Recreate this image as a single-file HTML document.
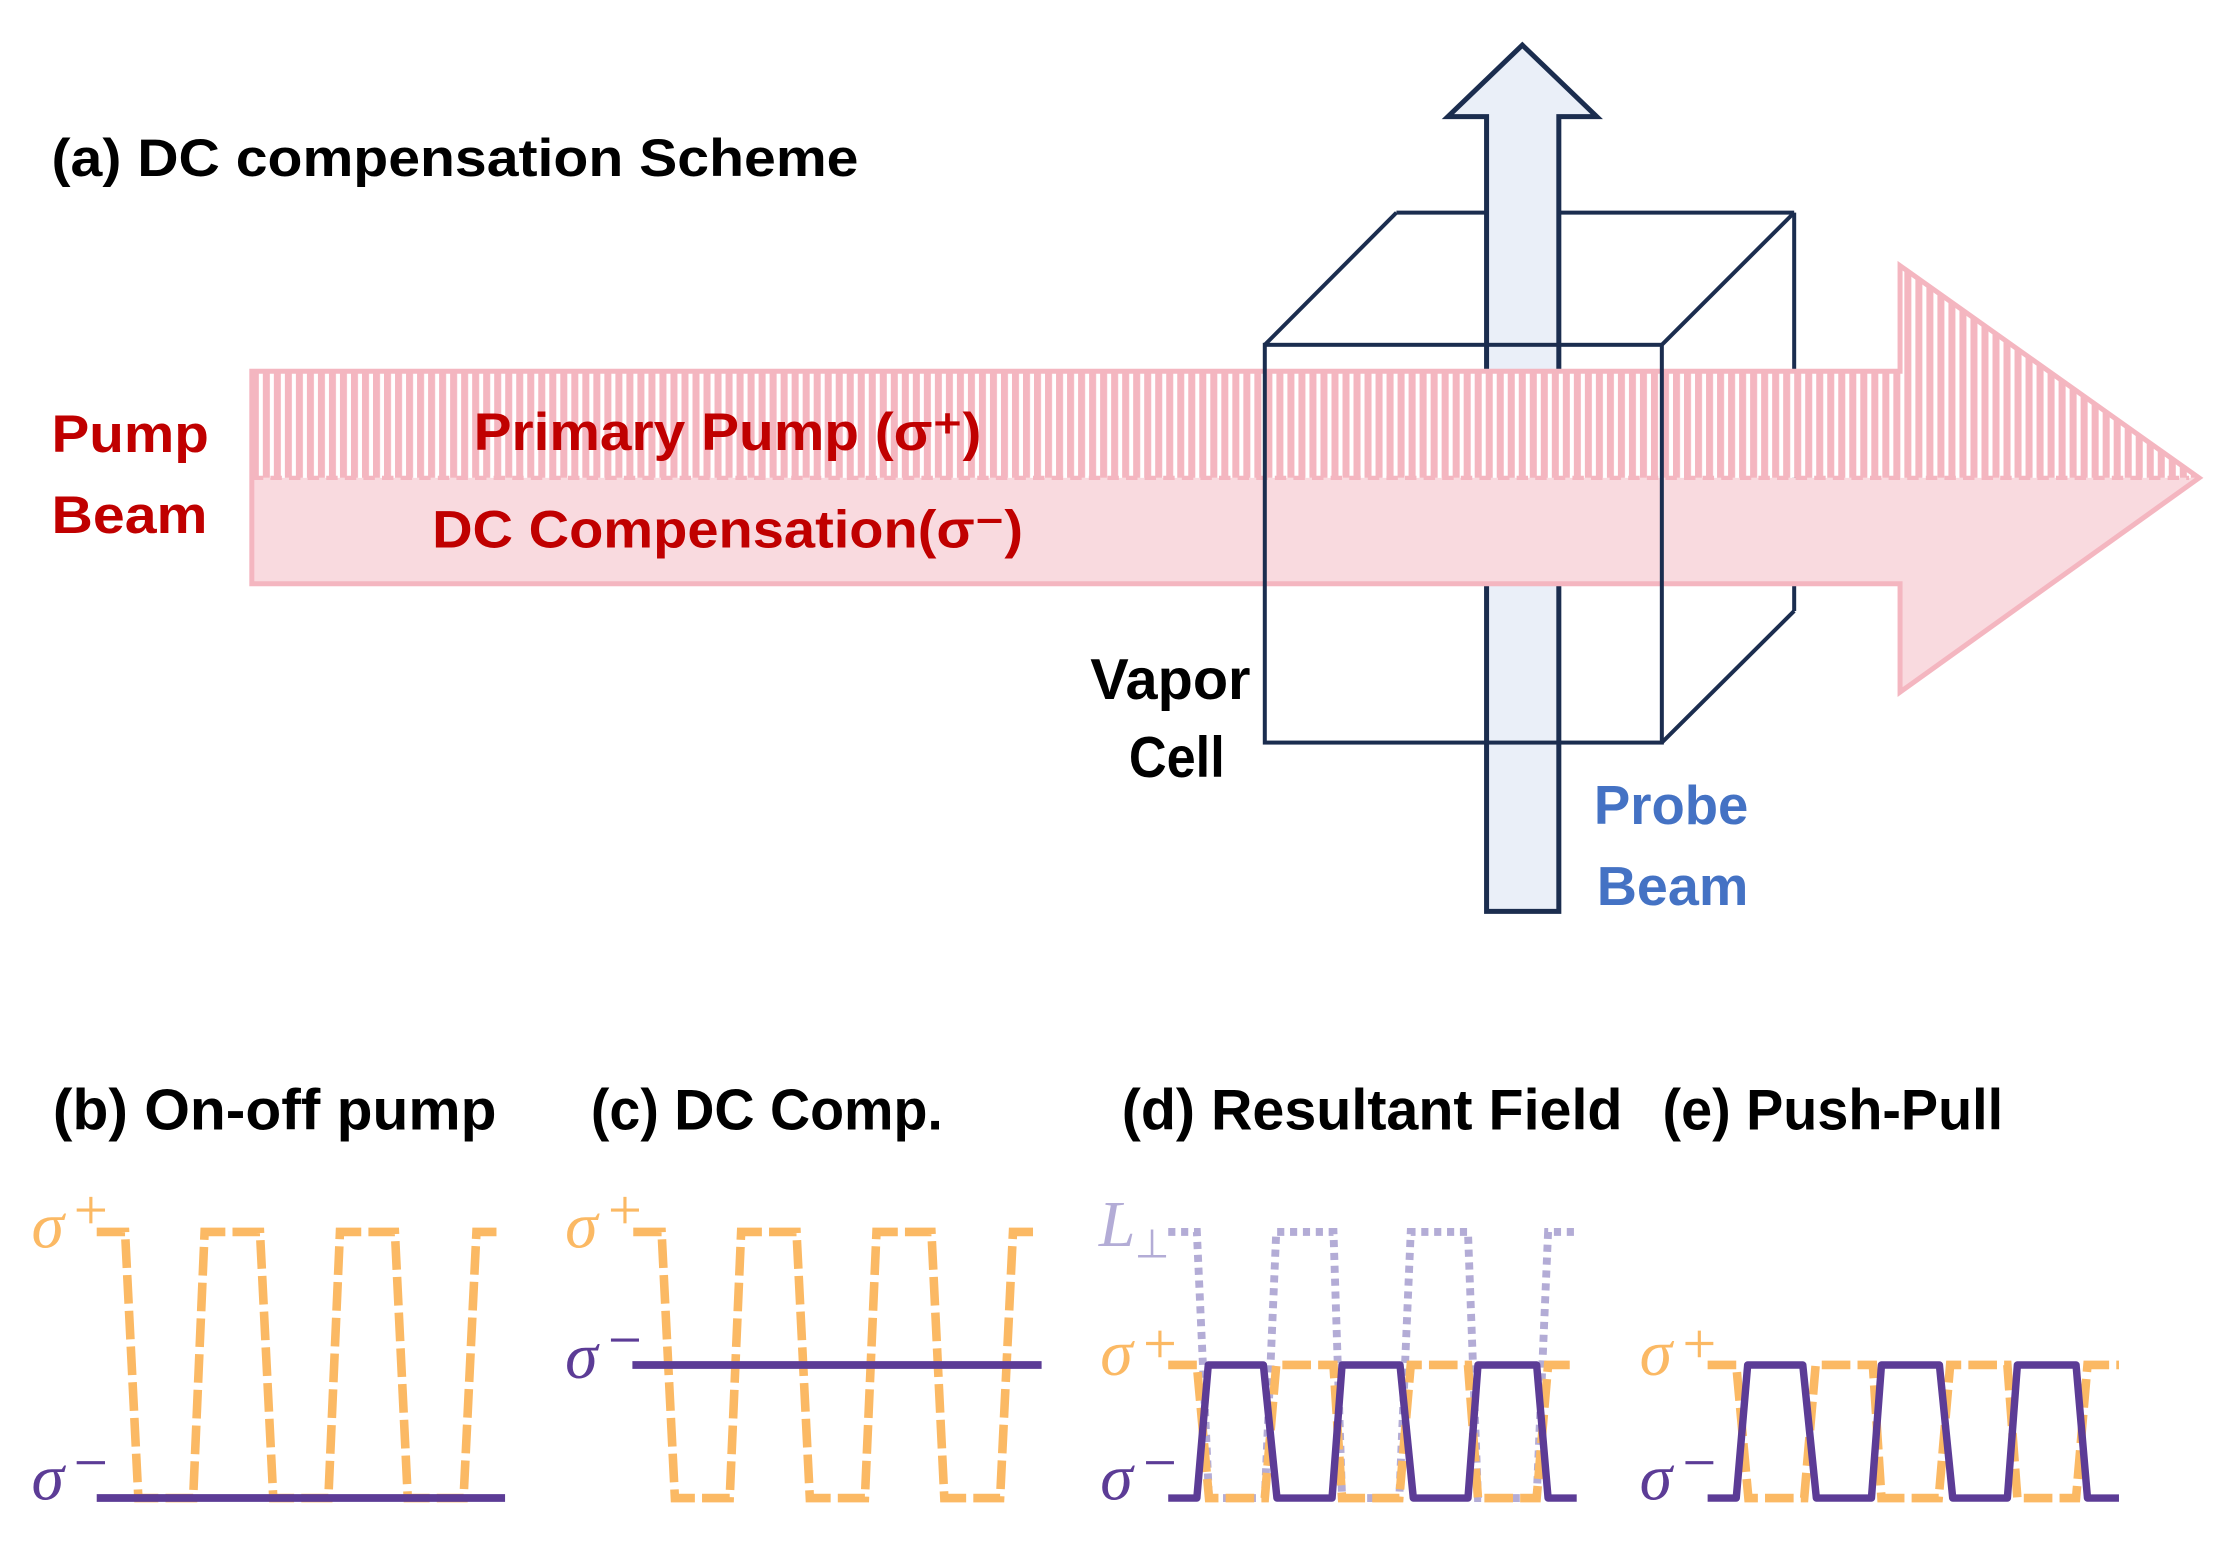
<!DOCTYPE html>
<html><head><meta charset="utf-8"><style>
html,body{margin:0;padding:0;background:#fff;}
svg{display:block;}
text{font-family:"Liberation Sans",sans-serif;}
.t{font-weight:bold;}
.s{font-family:"Liberation Serif",serif;font-style:italic;}
</style></head><body>
<svg width="2232" height="1567" viewBox="0 0 1560 1095.2" preserveAspectRatio="none" xmlns="http://www.w3.org/2000/svg">
<defs>
<pattern id="hatch" patternUnits="userSpaceOnUse" width="7.7" height="10" x="176">
<rect x="0" y="0" width="7.7" height="10" fill="#fff"/>
<rect x="0" y="0" width="4.9" height="10" fill="#f4b6c0"/>
</pattern>
</defs>
<rect width="1560" height="1095.2" fill="#fff"/>

<!-- title -->
<text x="36" y="123" font-size="37" class="t" textLength="564" lengthAdjust="spacingAndGlyphs">(a) DC compensation Scheme</text>

<!-- back cube edges -->
<g stroke="#1b2d4f" stroke-width="2.8" fill="none">
<line x1="976" y1="148.6" x2="1254" y2="148.6"/>
<line x1="1254" y1="148.6" x2="1254" y2="427"/>
<line x1="884" y1="241" x2="976" y2="148.6"/>
<line x1="1161.5" y1="241" x2="1254" y2="148.6"/>
<line x1="1161.5" y1="519" x2="1254" y2="427"/>
</g>

<!-- probe arrow -->
<polygon points="1039,637 1039,81.5 1012,81.5 1064,31.5 1116,81.5 1089.5,81.5 1089.5,637" fill="#eaeff8" stroke="#1b2d4f" stroke-width="3.5" stroke-linejoin="miter"/>

<!-- pump arrow -->
<polygon points="176,259.5 1328,259.5 1328,185.7 1537,334 176,334" fill="url(#hatch)"/>
<polygon points="176,334 1537,334 1328,483.7 1328,408 176,408" fill="#f9dadf"/>
<line x1="176" y1="334" x2="1530" y2="334" stroke="#f4b6c0" stroke-width="3" stroke-dasharray="8 5"/>
<polygon points="176,259.5 1328,259.5 1328,185.7 1537,334 1328,483.7 1328,408 176,408" fill="none" stroke="#f4b6c0" stroke-width="3.5"/>

<!-- front square -->
<rect x="884" y="241" width="277.5" height="278" fill="none" stroke="#1b2d4f" stroke-width="2.8"/>

<!-- top labels -->
<text x="36" y="316" font-size="37" class="t" fill="#c00000" textLength="110" lengthAdjust="spacingAndGlyphs">Pump</text>
<text x="36" y="372.6" font-size="37" class="t" fill="#c00000" textLength="109" lengthAdjust="spacingAndGlyphs">Beam</text>
<text x="331" y="314.6" font-size="37" class="t" fill="#c00000" textLength="355" lengthAdjust="spacingAndGlyphs">Primary Pump (σ⁺)</text>
<text x="302" y="382.8" font-size="37" class="t" fill="#c00000" textLength="413" lengthAdjust="spacingAndGlyphs">DC Compensation(σ⁻)</text>
<text x="762" y="488.6" font-size="40" class="t" fill="#000" textLength="112" lengthAdjust="spacingAndGlyphs">Vapor</text>
<text x="789" y="543" font-size="40" class="t" fill="#000" textLength="67" lengthAdjust="spacingAndGlyphs">Cell</text>
<text x="1114" y="576" font-size="38" class="t" fill="#4472c4" textLength="108" lengthAdjust="spacingAndGlyphs">Probe</text>
<text x="1116" y="632.6" font-size="38" class="t" fill="#4472c4" textLength="106" lengthAdjust="spacingAndGlyphs">Beam</text>

<!-- bottom titles -->
<text x="37" y="789.4" font-size="40" class="t" textLength="310" lengthAdjust="spacingAndGlyphs">(b) On-off pump</text>
<text x="413" y="789.4" font-size="40" class="t" textLength="246" lengthAdjust="spacingAndGlyphs">(c) DC Comp.</text>
<text x="784" y="789.4" font-size="40" class="t" textLength="350" lengthAdjust="spacingAndGlyphs">(d) Resultant Field</text>
<text x="1162" y="789.4" font-size="40" class="t" textLength="238" lengthAdjust="spacingAndGlyphs">(e) Push-Pull</text>

<!-- panel b -->
<g>
<polyline points="67.6,861 87.4,861 96.7,1047 135,1047 143,861 181.7,861 191,1047 229.5,1047 237.6,861 276,861 285,1047 324,1047 333,861 347,861" fill="none" stroke="#fbb964" stroke-width="6" stroke-dasharray="20 5"/>
<line x1="67.6" y1="1047" x2="353" y2="1047" stroke="#5c3c96" stroke-width="5.4"/>
<text x="22" y="872" font-size="46" class="s" fill="#fbb964">σ</text>
<g stroke="#fbb964" stroke-width="2.2"><line x1="53.6" y1="845.7" x2="73.4" y2="845.7"/><line x1="63.5" y1="836.5" x2="63.5" y2="855"/></g>
<text x="22" y="1048" font-size="46" class="s" fill="#5c3c96">σ</text>
<line x1="53.6" y1="1022.3" x2="73.4" y2="1022.3" stroke="#5c3c96" stroke-width="2.2"/>
</g>

<!-- panel c -->
<g>
<polyline transform="translate(375,0)" points="67.6,861 87.4,861 96.7,1047 135,1047 143,861 181.7,861 191,1047 229.5,1047 237.6,861 276,861 285,1047 324,1047 333,861 347,861" fill="none" stroke="#fbb964" stroke-width="6" stroke-dasharray="20 5"/>
<line x1="442" y1="954" x2="728" y2="954" stroke="#5c3c96" stroke-width="5.4"/>
<text x="395" y="872" font-size="46" class="s" fill="#fbb964">σ</text>
<g stroke="#fbb964" stroke-width="2.2"><line x1="427" y1="845.7" x2="446.6" y2="845.7"/><line x1="436.8" y1="836.5" x2="436.8" y2="855"/></g>
<text x="395" y="963" font-size="46" class="s" fill="#5c3c96">σ</text>
<line x1="427" y1="936.6" x2="446.6" y2="936.6" stroke="#5c3c96" stroke-width="2.2"/>
</g>

<!-- panel d -->
<g>
<polyline points="816.5,861 836.5,861 845,1047 884,1047 892,861 932,861 938,1047 978,1047 986,861 1026,861 1033,1047 1074,1047 1082,861 1102,861" fill="none" stroke="#b3acd6" stroke-width="5.5" stroke-dasharray="5 4"/>
<polyline points="816.5,954 836.5,954 845,1047 884,1047 892,954 932,954 938,1047 978,1047 986,954 1026,954 1033,1047 1074,1047 1082,954 1102,954" fill="none" stroke="#fbb964" stroke-width="6" stroke-dasharray="20 5"/>
<polyline points="816.5,1047 836.5,1047 844.5,954 883,954 892.5,1047 931,1047 938,954 978.5,954 987.8,1047 1026,1047 1033,954 1074,954 1082,1047 1102,1047" fill="none" stroke="#5c3c96" stroke-width="5.2" stroke-linejoin="round"/>
<text x="768" y="871" font-size="46" class="s" fill="#b3acd6">L</text>
<text x="793" y="879" font-size="28" font-family="Liberation Serif,serif" fill="#b3acd6">⊥</text>
<text x="769" y="961" font-size="46" class="s" fill="#fbb964">σ</text>
<g stroke="#fbb964" stroke-width="2.2"><line x1="801" y1="939" x2="820.5" y2="939"/><line x1="810.7" y1="930" x2="810.7" y2="948.6"/></g>
<text x="769" y="1048" font-size="46" class="s" fill="#5c3c96">σ</text>
<line x1="801" y1="1022.3" x2="820.5" y2="1022.3" stroke="#5c3c96" stroke-width="2.2"/>
</g>

<!-- panel e -->
<g transform="translate(377,0)">
<polyline points="816.5,954 836.5,954 845,1047 884,1047 892,954 932,954 938,1047 978,1047 986,954 1026,954 1033,1047 1074,1047 1082,954 1104,954" fill="none" stroke="#fbb964" stroke-width="6" stroke-dasharray="20 5"/>
<polyline points="816.5,1047 836.5,1047 844.5,954 883,954 892.5,1047 931,1047 938,954 978.5,954 987.8,1047 1026,1047 1033,954 1074,954 1082,1047 1104,1047" fill="none" stroke="#5c3c96" stroke-width="5.2" stroke-linejoin="round"/>
<text x="769" y="961" font-size="46" class="s" fill="#fbb964">σ</text>
<g stroke="#fbb964" stroke-width="2.2"><line x1="801" y1="939" x2="820.5" y2="939"/><line x1="810.7" y1="930" x2="810.7" y2="948.6"/></g>
<text x="769" y="1048" font-size="46" class="s" fill="#5c3c96">σ</text>
<line x1="801" y1="1022.3" x2="820.5" y2="1022.3" stroke="#5c3c96" stroke-width="2.2"/>
</g>
</svg>
</body></html>
